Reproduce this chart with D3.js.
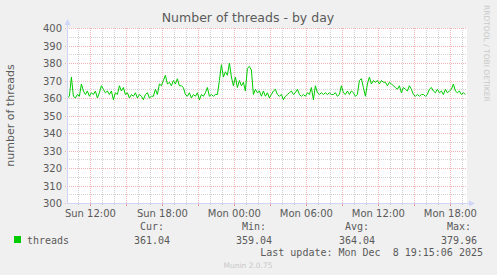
<!DOCTYPE html>
<html>
<head>
<meta charset="utf-8">
<script src="https://cdn.jsdelivr.net/npm/d3@7"></script>
<style>
body { margin: 0; background: #f0f0f0; }
svg { display: block; }
</style>
</head>
<body>
<div class="chart"></div>
<script>
var width = 497
var height = 275
var plot = {left: 67, right: 467, top: 28, bottom: 203}

// threads, one reading every 10 minutes from Sun 10:05
var threads = [
  360, 361, 372, 361, 360, 362, 361, 368, 364, 362,
  364, 361, 363, 362, 364, 360, 363, 367, 365, 363,
  364, 362, 364, 359, 363, 362, 367, 364, 366, 362,
  363, 360, 362, 361, 363, 360, 362, 361, 359, 362,
  363, 360, 361, 361, 365, 362, 368, 367, 370, 373,
  368, 369, 367, 370, 368, 371, 367, 367, 366, 362,
  361, 363, 360, 362, 361, 363, 359, 362, 361, 363,
  366, 361, 362, 361, 362, 362, 370, 379, 372, 375,
  373, 380, 372, 367, 372, 366, 370, 367, 369, 364,
  377, 378, 376, 362, 365, 363, 364, 361, 364, 361,
  363, 360, 362, 364, 365, 362, 361, 362, 359, 361,
  362, 363, 364, 362, 363, 365, 362, 361, 362, 361,
  363, 362, 366, 359, 367, 363, 362, 363, 362, 363,
  362, 363, 362, 362, 363, 361, 362, 367, 363, 362,
  364, 362, 364, 363, 361, 362, 370, 371, 366, 361,
  368, 372, 368, 370, 369, 370, 368, 370, 369, 369,
  367, 369, 368, 367, 366, 365, 367, 363, 366, 365,
  364, 367, 365, 362, 361, 362, 361, 362, 362, 361,
  362, 365, 366, 364, 363, 365, 363, 364, 362, 365,
  363, 364, 365, 368, 364, 363, 364, 362, 363, 362
]
var firstTime = new Date(2025, 11, 7, 10, 5)
var stepMinutes = 10

var yTicks = [300, 310, 320, 330, 340, 350, 360, 370, 380, 390, 400]
var xLabels = [
  new Date(2025, 11, 7, 12), new Date(2025, 11, 7, 18), new Date(2025, 11, 8, 0),
  new Date(2025, 11, 8, 6), new Date(2025, 11, 8, 12), new Date(2025, 11, 8, 18)
]
var stats = {cur: '361.04', min: '359.04', avg: '364.04', max: '379.96'}

var data = threads.map(function(v, i) {
  return {t: new Date(firstTime.getTime() + i*stepMinutes*60000), v: v}
})

var x = d3.scaleTime()
  .domain([new Date(2025, 11, 7, 10, 3), new Date(2025, 11, 8, 19, 23)])
  .range([plot.left, plot.right])
var y = d3.scaleLinear().domain([300, 400]).range([plot.bottom, plot.top])

var svg = d3.select('.chart')
  .append('svg')
  .attr('width', width)
  .attr('height', height)

svg.append('rect')
  .attr('x', 0).attr('y', 0).attr('width', width).attr('height', height)
  .style('fill', '#f0f0f0')
svg.append('rect')
  .attr('x', plot.left).attr('y', plot.top)
  .attr('width', plot.right - plot.left).attr('height', plot.bottom - plot.top)
  .style('fill', '#ffffff')

var minorColor = '#d2d2d2'
var majorColor = '#f2b4b4'
var grid = svg.append('g').attr('shape-rendering', 'crispEdges')

// minor horizontal grid every 5
d3.range(305, 400, 10).forEach(function(v) {
  grid.append('line')
    .attr('x1', plot.left).attr('x2', plot.right)
    .attr('y1', Math.round(y(v)) + 0.5).attr('y2', Math.round(y(v)) + 0.5)
    .style('stroke', minorColor).style('stroke-dasharray', '1,1')
})
// vertical grid every hour, major every 3 hours
var hours = d3.timeHour.every(1).range(x.domain()[0], x.domain()[1])
hours.forEach(function(h) {
  var px = Math.round(x(h)) + 0.5
  var major = h.getHours() % 3 == 0
  grid.append('line')
    .attr('x1', px).attr('x2', px)
    .attr('y1', plot.top).attr('y2', plot.bottom)
    .style('stroke', major ? majorColor : minorColor).style('stroke-dasharray', '1,1')
  grid.append('line')
    .attr('x1', px).attr('x2', px)
    .attr('y1', plot.bottom).attr('y2', plot.bottom + (major ? 3 : 2))
    .style('stroke', major ? '#f09090' : '#c8c8c8')
})
// major horizontal grid every 10
yTicks.forEach(function(v) {
  grid.append('line')
    .attr('x1', plot.left - 2).attr('x2', plot.right)
    .attr('y1', Math.round(y(v)) + 0.5).attr('y2', Math.round(y(v)) + 0.5)
    .style('stroke', majorColor).style('stroke-dasharray', '1,1')
})

var line = d3.line()
  .x(function(d) { return x(d.t) })
  .y(function(d) { return y(d.v) })

svg.append('path')
  .datum(data)
  .attr('d', line)
  .style('fill', 'none')
  .style('stroke', '#00cc00')
  .style('stroke-width', 1)

// axes in munin blue
var axisColor = '#cfd6f8'
svg.append('line')
  .attr('x1', plot.left + 0.5).attr('x2', plot.left + 0.5)
  .attr('y1', plot.bottom + 0.5).attr('y2', plot.top - 6)
  .style('stroke', axisColor)
svg.append('line')
  .attr('x1', plot.left).attr('x2', plot.right + 4)
  .attr('y1', plot.bottom + 0.5).attr('y2', plot.bottom + 0.5)
  .style('stroke', axisColor)
svg.append('path')
  .attr('d', d3.line()([[plot.left - 2.5, plot.top - 3], [plot.left + 3.5, plot.top - 3], [plot.left + 0.5, plot.top - 9]]))
  .style('fill', axisColor)
svg.append('path')
  .attr('d', d3.line()([[plot.right + 2, plot.bottom - 2.5], [plot.right + 2, plot.bottom + 3.5], [plot.right + 8, plot.bottom + 0.5]]))
  .style('fill', axisColor)

var font = 'DejaVu Sans, sans-serif'
var mono = 'DejaVu Sans Mono, monospace'
var textColor = '#5a5a5a'

svg.selectAll('.ylabel')
  .data(yTicks)
  .enter()
  .append('text')
  .attr('x', plot.left - 5)
  .attr('y', function(d) { return y(d) + 4 })
  .attr('text-anchor', 'end')
  .style('font-family', font).style('font-size', '10px').style('fill', textColor)
  .text(function(d) { return d })

svg.selectAll('.xlabel')
  .data(xLabels)
  .enter()
  .append('text')
  .attr('x', function(d) { return x(d) })
  .attr('y', plot.bottom + 14)
  .attr('text-anchor', 'middle')
  .style('font-family', font).style('font-size', '10px').style('fill', textColor)
  .text(function(d) { return d3.timeFormat('%a %H:%M')(d) })

svg.append('text')
  .attr('x', 248).attr('y', 22)
  .attr('text-anchor', 'middle')
  .style('font-family', font).style('font-size', '12.5px').style('fill', textColor)
  .text('Number of threads - by day')

svg.append('text')
  .attr('transform', 'translate(14,' + ((plot.top + plot.bottom)/2) + ') rotate(-90)')
  .attr('text-anchor', 'middle')
  .style('font-family', font).style('font-size', '11px').style('fill', textColor)
  .text('number of threads')

svg.append('text')
  .attr('transform', 'translate(484,5) rotate(90)')
  .style('font-family', font).style('font-size', '7.5px').style('fill', '#c8c8c8')
  .text('RRDTOOL / TOBI OETIKER')

// legend
svg.append('rect')
  .attr('x', 14).attr('y', 236).attr('width', 7).attr('height', 7)
  .style('fill', '#00cc00')
svg.append('text')
  .attr('x', 27).attr('y', 243.5)
  .style('font-family', mono).style('font-size', '10px').style('fill', textColor)
  .text('threads')

var cols = [
  {head: 'Cur:', val: stats.cur, x: 170},
  {head: 'Min:', val: stats.min, x: 272},
  {head: 'Avg:', val: stats.avg, x: 375},
  {head: 'Max:', val: stats.max, x: 477}
]
cols.forEach(function(c) {
  svg.append('text')
    .attr('x', c.x - 6).attr('y', 230)
    .attr('text-anchor', 'end')
    .style('font-family', mono).style('font-size', '10px').style('fill', textColor)
    .text(c.head)
  svg.append('text')
    .attr('x', c.x).attr('y', 243.5)
    .attr('text-anchor', 'end')
    .style('font-family', mono).style('font-size', '10px').style('fill', textColor)
    .text(c.val)
})

svg.append('text')
  .attr('x', 483).attr('y', 255.5)
  .attr('text-anchor', 'end')
  .attr('xml:space', 'preserve')
  .style('white-space', 'pre')
  .style('font-family', mono).style('font-size', '10px').style('fill', textColor)
  .text('Last update: Mon Dec  8 19:15:06 2025')

svg.append('text')
  .attr('x', 248).attr('y', 268)
  .attr('text-anchor', 'middle')
  .style('font-family', font).style('font-size', '7.5px').style('fill', '#c8c8c8')
  .text('Munin 2.0.75')
</script>
</body>
</html>
